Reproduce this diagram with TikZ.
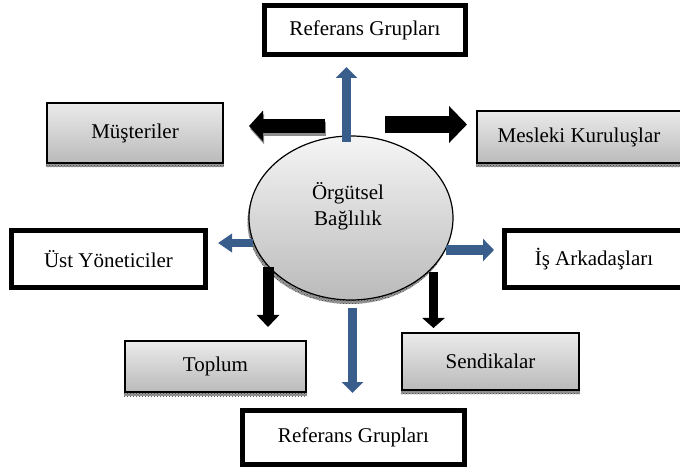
\documentclass[tikz,border=0pt]{standalone}
\usepackage{fontspec}
\setmainfont{Liberation Serif}
\usetikzlibrary{arrows.meta,shapes.geometric,patterns}
\definecolor{steel}{HTML}{3A5E8C}
\begin{document}
\begin{tikzpicture}[x=1pt,y=-1pt,
  font=\fontsize{21}{26}\selectfont,
  boldbox/.style={draw=black, line width=5pt, fill=white, inner sep=0pt},
  shadebox/.style={draw=black, line width=1.2pt, top color=black!8, bottom color=black!27, inner sep=0pt},
  shadowfill/.style={fill=black!40, postaction={pattern=crosshatch dots, pattern color=black!75}},
  fat/.style n args={3}{line width=#1, -{Triangle[length=#2,width=#3]}},
  blk/.style={draw=black},
  blu/.style={draw=steel, color=steel},
  ghost/.style={draw=black!45, color=black!45}
]
\useasboundingbox (0,0) rectangle (680,470);
\clip (0,0) rectangle (680,470);

% central ellipse with its shadow
\fill[shadowfill] (349.5,222) ellipse [x radius=102, y radius=82];
\node (ell) at (351,218) [ellipse, draw=black, line width=1.2pt, top color=black!4, bottom color=black!27,
  minimum width=204pt, minimum height=164pt, inner sep=0pt] {};
\node (elltext) at (348,206) [align=center] {Örgütsel\\Bağlılık};

% outlined boxes
\node (reftop) at (365,30) [boldbox, minimum width=201pt, minimum height=49pt] {Referans Grupları};
\node (ust) at (108.5,259) [boldbox, minimum width=194pt, minimum height=57pt] {Üst Yöneticiler};
\node (is) at (594,259) [boldbox, minimum width=179pt, minimum height=57pt] {İş Arkadaşları};
\node (refbot) at (353.5,437.5) [boldbox, minimum width=222pt, minimum height=54pt] {Referans Grupları};

% shaded boxes
\node (mus) at (135,133) [shadebox, minimum width=176pt, minimum height=60pt] {Müşteriler};
\node (mes) at (579,137) [shadebox, minimum width=204pt, minimum height=52pt] {Mesleki Kuruluşlar};
\node (top) at (215.5,366.5) [shadebox, minimum width=181pt, minimum height=51pt] {Toplum};
\node (sen) at (490.5,361.5) [shadebox, minimum width=177pt, minimum height=57pt] {Sendikalar};

% shadow bands under the shaded boxes
\foreach \b in {mus,mes,top,sen}
  \fill[shadowfill] ([xshift=-0.6pt,yshift=-0.6pt]\b.south west) rectangle ([xshift=0.6pt,yshift=-3.8pt]\b.south east);

% arrow end points
\coordinate (upS) at (346.5,142);   \coordinate (upE) at (346.5,67);
\coordinate (lfS) at (325,126);     \coordinate (lfE) at (249,126);
\coordinate (rtS) at (385,124.5);   \coordinate (rtE) at (467,124.5);
\coordinate (blS) at (253,243);     \coordinate (blE) at (218,243);
\coordinate (brS) at (446,250);     \coordinate (brE) at (494,250);
\coordinate (dlS) at (268,267);     \coordinate (dlE) at (268,327);
\coordinate (drS) at (433.5,272);   \coordinate (drE) at (433.5,328);
\coordinate (dnS) at (352.5,308);   \coordinate (dnE) at (352.5,393);

% arrows
\draw[ghost, fat={14pt}{14pt}{30pt}, transform canvas={shift={(1.2pt,-3pt)}}] (lfS) -- (lfE);
\draw[blk, fat={14pt}{14pt}{30pt}] (lfS) -- (lfE);
\draw[blk, fat={17pt}{18pt}{36pt}] (rtS) -- (rtE);
\draw[blu, fat={9pt}{11pt}{21pt}] (upS) -- (upE);
\draw[blu, fat={8pt}{14pt}{18pt}] (blS) -- (blE);
\draw[blu, fat={10pt}{11pt}{22pt}] (brS) -- (brE);
\draw[blk, fat={11pt}{12pt}{22pt}] (dlS) -- (dlE);
\draw[blk, fat={9pt}{10pt}{22pt}] (drS) -- (drE);
\draw[blu, fat={9pt}{11pt}{21pt}] (dnS) -- (dnE);
\end{tikzpicture}
\end{document}
